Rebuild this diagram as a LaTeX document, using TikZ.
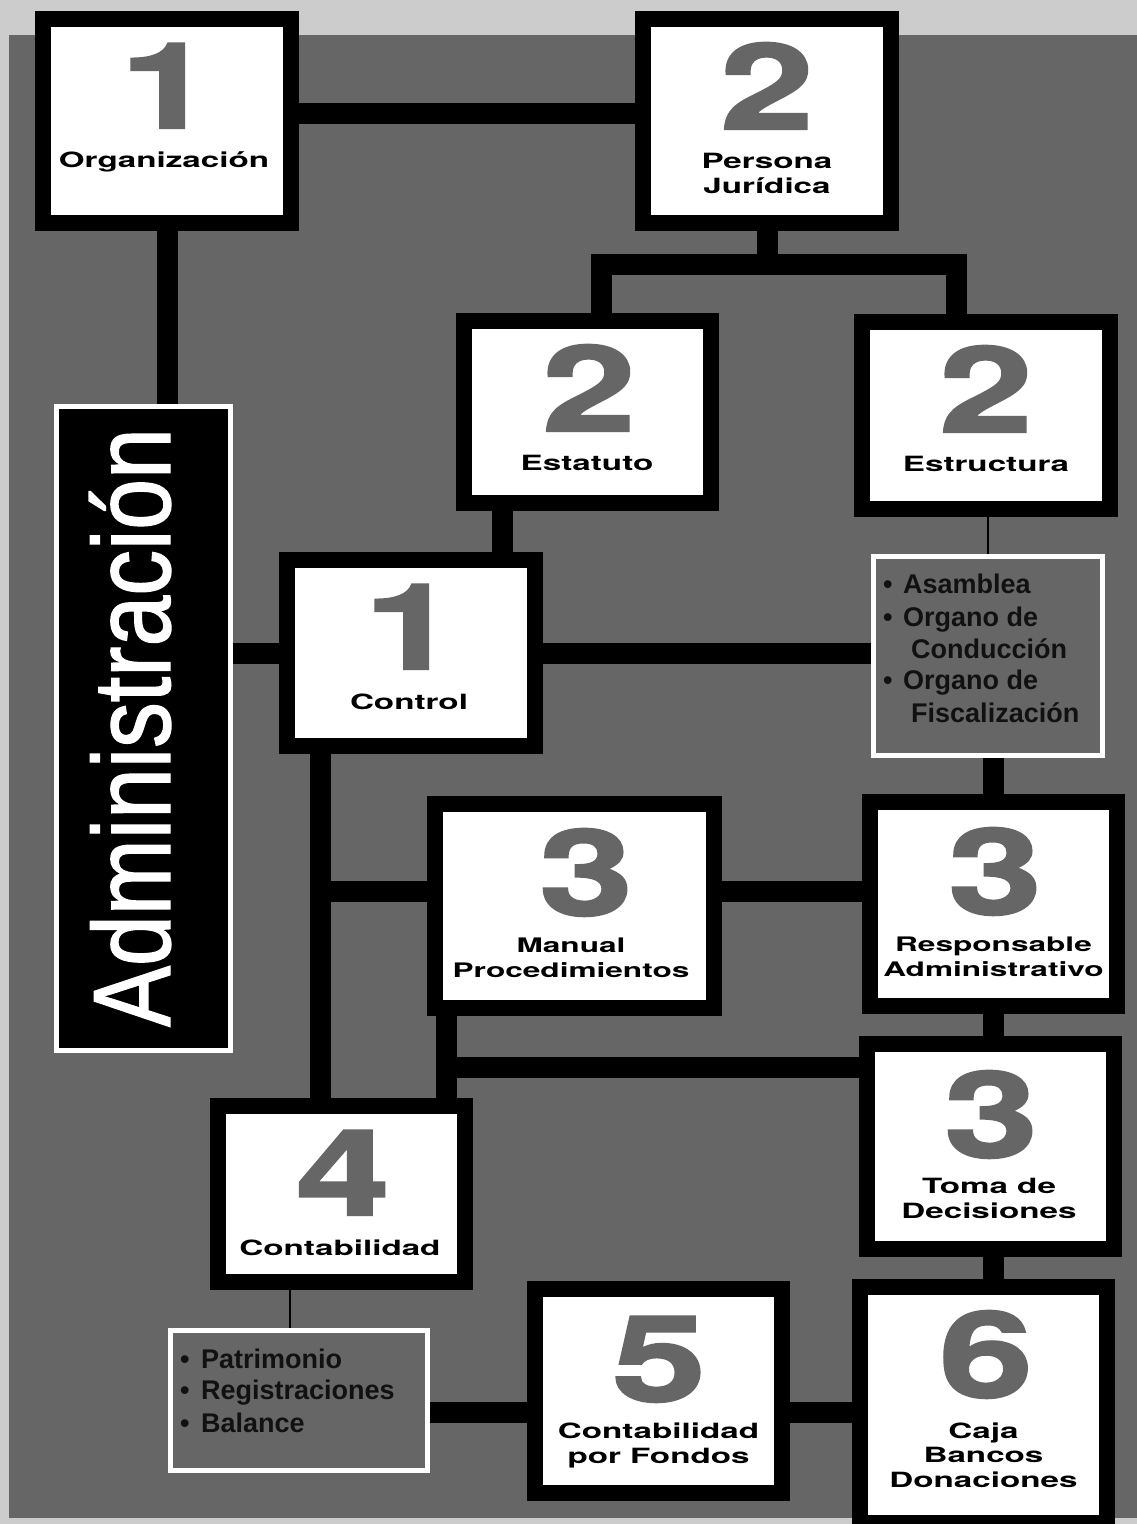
\documentclass[tikz,border=0pt]{standalone}
\usepackage{fontspec}
\setmainfont{Liberation Sans}
\newfontfamily\numfont{TeX Gyre Heros}[FakeStretch=1.42, FakeBold=2]
\newfontfamily\lblfont{TeX Gyre Heros}[FakeStretch=1.58]
\newfontfamily\listfont{Liberation Sans}
\newfontfamily\adminfont{Liberation Sans}[FakeStretch=0.83, FakeBold=1.2]
\definecolor{paper}{HTML}{CCCCCC}
\definecolor{slate}{HTML}{666666}
\definecolor{ink}{HTML}{111111}
\pgfdeclarelayer{backdrop}
\pgfdeclarelayer{wires}
\pgfsetlayers{backdrop,wires,main}

\begin{document}
\begin{tikzpicture}[
    x=1pt, y=-1pt,
    card/.style={draw=black, line width=16pt, fill=white, inner sep=0pt},
    listcard/.style={draw=white, line width=5pt, fill=slate, inner sep=0pt},
    bar/.style={line width=21pt, line join=miter},
    hair/.style={line width=1.5pt},
    digit/.style={font=\numfont\bfseries\fontsize{119}{119}\selectfont,
      text=slate, anchor=base, inner sep=0pt},
    caption/.style={font=\lblfont\bfseries\fontsize{21}{24.5}\selectfont,
      anchor=base, align=center, inner sep=0pt},
    smallcaption/.style={caption, font=\lblfont\bfseries\fontsize{20}{24.5}\selectfont},
    item/.style={font=\listfont\bfseries\fontsize{27}{32}\selectfont,
      text=ink, anchor=base west, inner sep=0pt},
  ]

\useasboundingbox (0,0) rectangle (1137,1524);
\clip (0,0) rectangle (1137,1524);

% Page: light frame with the dark panel set slightly in.
\begin{pgfonlayer}{backdrop}
  \fill[paper] (0,0) rectangle (1137,1524);
  \fill[slate] (9,35) rectangle (1137,1518);
\end{pgfonlayer}

% Boxes, sized from their outer edges minus the frame width.
\node[card, minimum width=248pt, minimum height=204pt] (org) at (167,121) {};
\node[card, minimum width=248pt, minimum height=204pt] (pers) at (767,121) {};
\node[card, minimum width=247pt, minimum height=182pt] (stat) at (587.5,412) {};
\node[card, minimum width=248pt, minimum height=187pt] (estr) at (986,415.5) {};
\node[card, minimum width=248pt, minimum height=186pt] (ctrl) at (411,653) {};
\node[card, minimum width=279pt, minimum height=204pt] (manual) at (574.5,906) {};
\node[card, minimum width=247pt, minimum height=204pt] (resp) at (993.5,904) {};
\node[card, minimum width=247pt, minimum height=205pt] (toma) at (990.5,1146.5) {};
\node[card, minimum width=247pt, minimum height=176pt] (cont) at (341.5,1194) {};
\node[card, minimum width=247pt, minimum height=204pt] (fond) at (658.5,1391) {};
\node[card, minimum width=247pt, minimum height=236pt] (caja) at (983.5,1405) {};
\node[draw=white, line width=5pt, fill=black, inner sep=0pt,
  minimum width=174pt, minimum height=644pt] (admin) at (143.5,728.5) {};
\node[listcard, minimum width=229pt, minimum height=199pt] (organos) at (988,656) {};
\node[listcard, minimum width=257pt, minimum height=140pt] (libros) at (299,1400.5) {};

% Numbers and captions (captions placed by the baseline of their last line)
\node[digit] (orgnum) at (167,128) {1};
\node[caption] (orgname) at (164,167) {Organización};
\node[digit] (persnum) at (767,129) {2};
\node[caption] (persname) at (767,193) {Persona\\Jurídica};
\node[digit] (statnum) at (589,431) {2};
\node[caption] (statname) at (587,470) {Estatuto};
\node[digit] (estrnum) at (986,432) {2};
\node[caption] (estrname) at (986,471) {Estructura};
\node[digit] (ctrlnum) at (411,669) {1};
\node[caption] (ctrlname) at (409,709) {Control};
\node[digit] (mannum) at (586,915) {3};
\node[smallcaption] (manname) at (571,977) {Manual\\Procedimientos};
\node[digit] (respnum) at (995,914) {3};
\node[smallcaption] (respname) at (993.5,976) {Responsable\\Administrativo};
\node[digit] (tomanum) at (991,1157) {3};
\node[caption] (tomaname) at (989,1218) {Toma de\\Decisiones};
\node[digit] (contnum) at (343,1215) {4};
\node[caption] (contname) at (340,1255) {Contabilidad};
\node[digit] (fondnum) at (659,1401) {5};
\node[caption] (fondname) at (658.5,1463) {Contabilidad\\por Fondos};
\node[digit] (cajanum) at (986,1397) {6};
\node[caption] (cajaname) at (983.5,1487) {Caja\\Bancos\\Donaciones};

% Vertical title
\node[font=\adminfont\fontsize{110}{110}\selectfont, text=white, rotate=90,
  anchor=base, inner sep=0pt] (admintxt) at (170,727.5) {Administración};

% Bullet lists
\node[item] (asam) at (883,593) {\makebox[20pt][l]{•}Asamblea};
\node[item] (cond) at (883,626) {\makebox[20pt][l]{•}Organo de};
\node[item] (cond2) at (911,658) {Conducción};
\node[item] (fisc) at (883,689) {\makebox[20pt][l]{•}Organo de};
\node[item] (fisc2) at (911,722) {Fiscalización};
\node[item] (patr) at (180,1368) {\makebox[21pt][l]{•}Patrimonio};
\node[item] (regi) at (180,1399) {\makebox[21pt][l]{•}Registraciones};
\node[item] (bala) at (180,1432) {\makebox[21pt][l]{•}Balance};

% Connectors go under the boxes so their ends are hidden by the frames.
\begin{pgfonlayer}{wires}
  \coordinate (fork) at (767,264.5);
  \coordinate (stathead) at ([xshift=14pt]stat.north);
  \coordinate (estrhead) at ([xshift=-29.5pt]estr.north);
  \coordinate (statfoot) at ([xshift=-85.5pt]stat.south);
  \coordinate (ctrlfoot) at ([xshift=-90.5pt]ctrl.south);
  \coordinate (manwest) at ([yshift=15pt]manual.west);
  \coordinate (maneast) at ([yshift=15pt]manual.east);
  \coordinate (manfoot) at ([xshift=-128pt]manual.south);
  \coordinate (tomawest) at ([yshift=79.5pt]toma.west);
  \coordinate (tomafoot) at ([xshift=2.5pt]toma.south);
  \coordinate (librostop) at ([xshift=-9pt]libros.north);
  \coordinate (fondwest) at ([yshift=-21pt]fond.west);
  \coordinate (fondeast) at ([yshift=-21pt]fond.east);

  \draw[bar] ([yshift=7.5pt]org.east) -- ([yshift=7.5pt]pers.west);
  \draw[bar] (pers.south) -- (fork);
  \draw[bar] (stathead) |- (fork) -| (estrhead);
  \draw[bar] (org.south) -- (org.south |- admin.north);
  \draw[bar] (statfoot) -- (statfoot |- ctrl.north);
  \draw[bar] (ctrl.west -| admin.east) -- (ctrl.west);
  \draw[bar] (ctrl.east) -- (ctrl.east -| organos.west);
  \draw[hair] (organos.north |- estr.south) -- (organos.north);
  \draw[bar] (resp.north |- organos.south) -- (resp.north);
  \draw[bar] (ctrlfoot) -- (ctrlfoot |- cont.north);
  \draw[bar] (manwest) -- (manwest -| ctrlfoot);
  \draw[bar] (maneast) -- (maneast -| resp.west);
  \draw[bar] (resp.south) -- (resp.south |- toma.north);
  \draw[bar] (manfoot) -- (manfoot |- cont.north);
  \draw[bar] (tomawest -| manfoot) -- (tomawest);
  \draw[bar] (tomafoot) -- (tomafoot |- caja.north);
  \draw[hair] (librostop |- cont.south) -- (librostop);
  \draw[bar] (fondwest -| libros.east) -- (fondwest);
  \draw[bar] (fondeast) -- (fondeast -| caja.west);
\end{pgfonlayer}

\end{tikzpicture}
\end{document}
